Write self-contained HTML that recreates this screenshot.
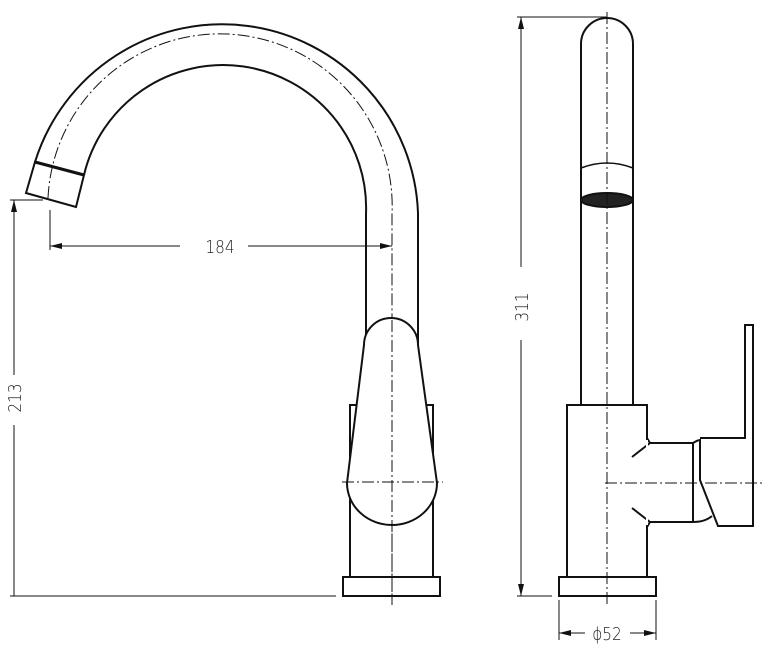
<!DOCTYPE html>
<html><head><style>body{margin:0;background:#fff}svg{display:block}</style></head><body>
<svg width="767" height="646" viewBox="0 0 767 646" xmlns="http://www.w3.org/2000/svg" fill="none" stroke="#111" stroke-width="2">
<path d="M35 162 A196 196 0 0 1 418 213 L418 345"/>
<path d="M84 175 A143 143 0 0 1 366 214 L366 345"/>
<path d="M48 198 A171 171 0 0 1 392 214 L392 605" stroke-width="1" stroke-dasharray="12 3 2 3"/>
<path d="M35 162 L84 175 L76 207 L26 193 Z"/>
<path d="M35 162 L84 175" stroke-width="3"/>
<path d="M350 577 L350 405 L362 405 M421 405 L433 405 L433 577"/>
<path d="M364 345 A27 27 0 0 1 418 345 L437 483 A45 42 0 0 1 347 483 Z" fill="#fff"/>
<rect x="343" y="577" width="97" height="19"/>
<path d="M342 482 L443 482 M392 320 L392 605" stroke-width="1" stroke-dasharray="12 3 2 3"/>
<g stroke-width="1">
<path d="M50 246 L180 246 M248 246 L392 246 M50 210 L50 250 M14 200 L14 375 M14 425 L14 596 M10 200 L43 200 M10 596 L336 596"/>
</g>
<g fill="#111" stroke="none">
<path d="M50 246 l12 -3 v6z M392 246 l-12 -3 v6z M14 200 l-3 12 h6z"/>
</g>
<g font-family="DejaVu Sans, sans-serif" font-size="18" fill="#222" stroke="none" font-weight="300">
<text x="220" y="253" text-anchor="middle" transform="translate(220 0) scale(0.85 1) translate(-220 0)">184</text>
<text transform="translate(21 398) rotate(-90) scale(0.85 1)" text-anchor="middle">213</text>
<text transform="translate(528 307) rotate(-90) scale(0.85 1)" text-anchor="middle">311</text>
<text x="607" y="640" text-anchor="middle" transform="translate(607 0) scale(0.85 1) translate(-607 0)">ϕ52</text>
</g>
<path d="M581 405 L581 44 A26 26 0 0 1 633 44 L633 405"/>
<path d="M581 168 Q607 158 633 168" stroke-width="1.5"/>
<ellipse cx="607" cy="200" rx="26" ry="7" fill="#222"/>
<rect x="567" y="405" width="80" height="172" fill="#fff"/>
<rect x="559" y="577" width="97" height="19"/>
<path d="M647 438 L650 443 L693 443 L693 522 L650 522 L647 527 M650 443 L632 457 M650 522 L632 508" />
<path d="M647 440 L647 525" stroke="#fff" stroke-width="2"/>
<path d="M693 443 Q698 440 700 440 L700 480 L718 526 L753 526 L753 325 L745 325 L745 438 L700 438 M693 522 Q705 522 712 516"/>
<path d="M605 483 L765 483 M607 12 L607 605" stroke-width="1" stroke-dasharray="12 3 2 3"/>
<g stroke-width="1">
<path d="M521 17 L521 267 M521 340 L521 596 M517 17 L607 17 M517 596 L552 596 M559 600 L559 640 M656 600 L656 640 M559 633 L585 633 M630 633 L656 633"/>
</g>
<g fill="#111" stroke="none">
<path d="M521 17 l-3 12 h6z M521 596 l-3 -12 h6z M559 633 l12 -3 v6z M656 633 l-12 -3 v6z"/>
</g>
</svg>
</body></html>
